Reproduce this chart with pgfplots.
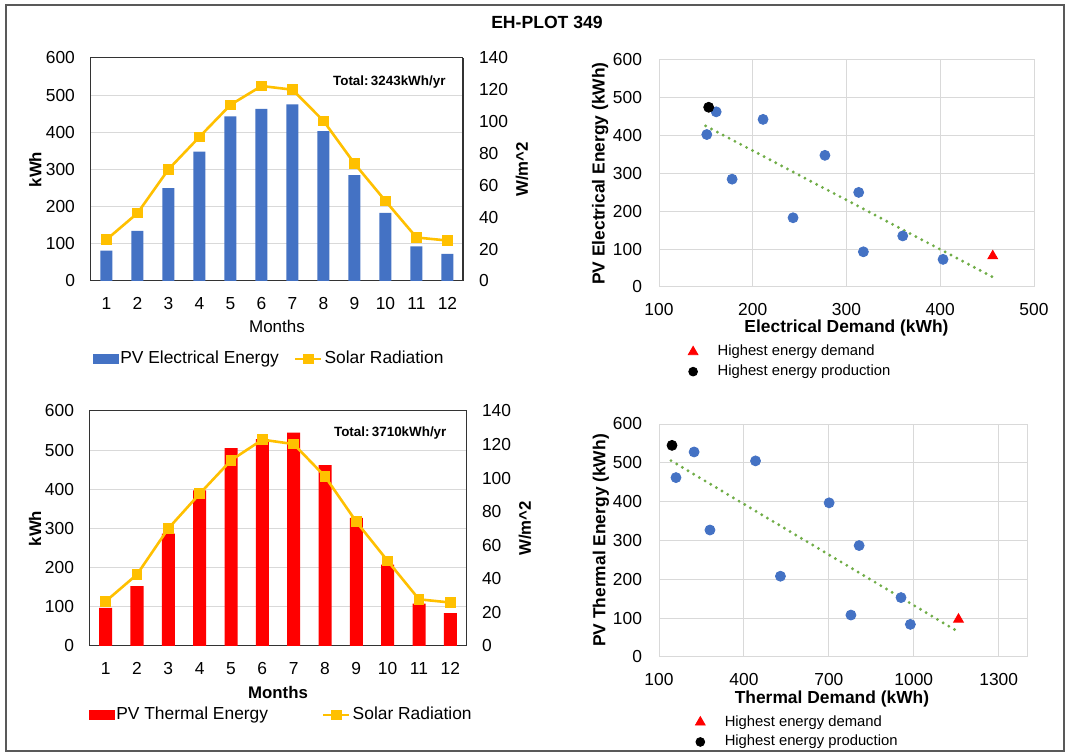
\documentclass[border=0pt]{standalone}
\usepackage{fontspec}
\setmainfont{Liberation Sans}
\usepackage{pgfplots}
\pgfplotsset{compat=1.18}
\definecolor{barblue}{HTML}{4472C4}
\definecolor{solar}{HTML}{FFC000}
\definecolor{trend}{HTML}{70AD47}
\definecolor{gridgray}{HTML}{D9D9D9}
\definecolor{framegray}{HTML}{595959}

\newcommand{\tickfont}{\fontsize{8.7}{10}\selectfont}
\newcommand{\legfont}{\fontsize{8.7}{10}\selectfont}
\newcommand{\labfont}{\fontsize{8.4}{10}\selectfont\bfseries}
\newcommand{\totfont}{\fontsize{6.7}{8}\selectfont\bfseries}
\newcommand{\scatlegfont}{\fontsize{7.4}{9}\selectfont}

\pgfplotsset{
  common/.style={
    scale only axis,
    major tick length=0pt,
    tick label style={font=\tickfont},
    /pgf/number format/assume math mode=true,
    /pgf/number format/1000 sep={},
  },
  monthbars/.style={
    common,
    xmin=0.5, xmax=12.5, ymin=0, ymax=600,
    xtick={1,...,12}, ytick={0,100,...,600},
    ymajorgrids, grid style={gridgray, line width=0.5pt},
    axis line style={black!80, line width=0.5pt},
    yticklabel style={xshift=-4.5pt},
    xticklabel style={yshift=-4.5pt},
  },
  radiation/.style={
    common,
    xmin=0.5, xmax=12.5, ymin=0, ymax=140,
    ytick={0,20,...,140},
    axis y line*=right, axis x line=none,
    axis line style={black!80, line width=0.5pt},
    yticklabel style={xshift=4.5pt},
    ylabel style={font=\labfont, anchor=center},
    legend style={draw=none, fill=none, inner sep=0pt, font=\legfont,
      legend columns=2, nodes={inner sep=1pt}},
  },
  solarline/.style={solar, line width=1.3pt, mark=square*, mark size=2pt,
    legend image code/.code={\draw[mark repeat=2,mark phase=2,##1] plot coordinates {(0pt,0pt) (6.5pt,0pt) (13pt,0pt)};}},
  trendline/.style={trend, line width=1.6pt, dash pattern=on 0pt off 3.3pt, line cap=round, forget plot},
  scatterax/.style={
    common,
    ymin=0, ymax=600, ytick={0,100,...,600},
    grid=major, grid style={gridgray, line width=0.5pt},
    axis line style={gridgray, line width=0.5pt},
    yticklabel style={xshift=-5pt},
    xticklabel style={yshift=-4.5pt},
    xlabel style={font=\fontsize{8.7}{10}\selectfont\bfseries, anchor=center},
    ylabel style={font=\fontsize{8.7}{10}\selectfont\bfseries, anchor=center},
    legend style={draw=none, fill=none, inner sep=0pt, font=\scatlegfont,
      anchor=north west, nodes={inner sep=0.8pt}, row sep=1.4pt,
      cells={anchor=west},
      /tikz/every odd column/.append style={column sep=9pt}},
  },
}

\pgfplotstableread{
m  pve  solar1 pvt  solar2
1  82   26.0   97   26.6
2  135  42.6   153  42.6
3  250  70.1   287  70.0
4  348  90.5   397  90.7
5  443  110.6  505  110.6
6  463  122.4  528  122.9
7  475  120.1  545  120.3
8  403  100.5  462  101.0
9  285  73.7   327  74.0
10 183  50.2   208  50.7
11 93   27.3   108  27.8
12 73   25.4   84   25.9
}\monthly

\pgfplotstableread{
dem  pv
161  463
211  443
151  403
277  348
178  285
313  250
243  183
360  135
318  93
403  73
}\elscatter

\pgfplotstableread{
dem  pv
224  528
441  505
160  462
701  397
280  327
807  287
529  208
955  153
778  108
988  84
}\thscatter

\begin{document}
\begin{tikzpicture}
\path[use as bounding box] (0pt,0pt) rectangle (533.5pt,376.5pt);
\fill[white] (0pt,0pt) rectangle (533.5pt,376.5pt);
\draw[framegray, line width=0.8pt] (3pt,1pt) rectangle (532pt,374pt);
\node[font=\fontsize{8.8}{10}\selectfont\bfseries] at (273.5pt,365.5pt) {EH-PLOT 349};

% top left: electrical energy and radiation
\begin{axis}[monthbars, at={(45.5pt,236pt)}, anchor=south west,
    width=186pt, height=111.5pt,
    xlabel={Months},
    xlabel style={font=\fontsize{8.5}{10}\selectfont, at={(axis description cs:0.5,-0.202)}, anchor=center},
    ylabel={kWh},
    ylabel style={font=\labfont, at={(axis description cs:-0.150,0.5)}, anchor=center}]
\addplot[ybar, bar width=6pt, fill=barblue, draw=none] table[x=m, y=pve] {\monthly};
\node[font=\totfont, anchor=east, inner sep=0pt] at (axis description cs:0.954,0.892) {Total:\hspace{1.2pt}3243kWh/yr};
\end{axis}
\begin{axis}[radiation, at={(45.5pt,236pt)}, anchor=south west,
    width=186pt, height=111.5pt,
    ylabel={W/m\textasciicircum 2},
    ylabel style={at={(axis description cs:1.1586,0.5)}},
    legend style={at={(axis description cs:0.003,-0.35)}, anchor=west,
      /tikz/every even column/.append style={column sep=6.5pt}}]
\addlegendimage{legend image code/.code={\fill[barblue] (0pt,-2.2pt) rectangle (12.5pt,2.2pt);}}
\addlegendentry{PV Electrical Energy}
\addplot[solarline] table[x=m, y=solar1] {\monthly};
\addlegendentry{Solar Radiation}
\end{axis}

% bottom left: thermal energy and radiation
\begin{axis}[monthbars, at={(45pt,53.5pt)}, anchor=south west,
    width=188pt, height=117.5pt,
    xlabel={Months},
    xlabel style={font=\labfont, at={(axis description cs:0.5,-0.196)}, anchor=center},
    ylabel={kWh},
    ylabel style={font=\labfont, at={(axis description cs:-0.146,0.5)}, anchor=center}]
\addplot[ybar, bar width=6.5pt, fill=red, draw=none] table[x=m, y=pvt] {\monthly};
\node[font=\totfont, anchor=east, inner sep=0pt] at (axis description cs:0.949,0.906) {Total:\hspace{1.2pt}3710kWh/yr};
\end{axis}
\begin{axis}[radiation, at={(45pt,53.5pt)}, anchor=south west,
    width=188pt, height=117.5pt,
    ylabel={W/m\textasciicircum 2},
    ylabel style={at={(axis description cs:1.157,0.5)}},
    legend style={at={(axis description cs:-0.005,-0.294)}, anchor=west,
      /tikz/every even column/.append style={column sep=26pt}}]
\addlegendimage{legend image code/.code={\fill[red] (0pt,-2.2pt) rectangle (12.5pt,2.2pt);}}
\addlegendentry{PV Thermal Energy}
\addplot[solarline] table[x=m, y=solar2] {\monthly};
\addlegendentry{Solar Radiation}
\end{axis}

% top right: electrical demand scatter
\begin{axis}[scatterax, at={(329.5pt,233pt)}, anchor=south west,
    width=187.5pt, height=113.5pt,
    xmin=100, xmax=500, xtick={100,200,...,500},
    xlabel={Electrical Demand (kWh)},
    xlabel style={at={(axis description cs:0.5,-0.18)}},
    ylabel={PV Electrical Energy (kWh)},
    ylabel style={at={(axis description cs:-0.157,0.5)}},
    legend style={at={(axis description cs:0.077,-0.247)}}]
\addplot[only marks, mark=*, mark size=2.5pt, barblue, forget plot] table[x=dem, y=pv] {\elscatter};
\addplot[trendline] coordinates {(149.8,425.8) (455.9,26.4)};
\addplot[only marks, mark=*, mark size=2.5pt, black, forget plot] coordinates {(153,475)};
\addplot[only marks, mark=triangle*, mark size=2.8pt, red, forget plot] coordinates {(456,82)};
\addlegendimage{only marks, mark=triangle*, mark size=2.8pt, red}
\addlegendentry{Highest energy demand}
\addlegendimage{only marks, mark=*, mark size=2.2pt, black}
\addlegendentry{Highest energy production}
\end{axis}

% bottom right: thermal demand scatter
\begin{axis}[scatterax, at={(329.5pt,48pt)}, anchor=south west,
    width=184pt, height=116.5pt,
    xmin=100, xmax=1400, xtick={100,400,700,1000,1300},
    xlabel={Thermal Demand (kWh)},
    xlabel style={at={(axis description cs:0.47,-0.18)}},
    ylabel={PV Thermal Energy (kWh)},
    ylabel style={at={(axis description cs:-0.158,0.5)}},
    legend style={at={(axis description cs:0.098,-0.242)}}]
\addplot[only marks, mark=*, mark size=2.5pt, barblue, forget plot] table[x=dem, y=pv] {\thscatter};
\addplot[trendline] coordinates {(142.4,505.7) (1150.6,67.7)};
\addplot[only marks, mark=*, mark size=2.5pt, black, forget plot] coordinates {(146,545)};
\addplot[only marks, mark=triangle*, mark size=2.8pt, red, forget plot] coordinates {(1158,97)};
\addlegendimage{only marks, mark=triangle*, mark size=2.8pt, red}
\addlegendentry{Highest energy demand}
\addlegendimage{only marks, mark=*, mark size=2.2pt, black}
\addlegendentry{Highest energy production}
\end{axis}
\end{tikzpicture}
\end{document}
